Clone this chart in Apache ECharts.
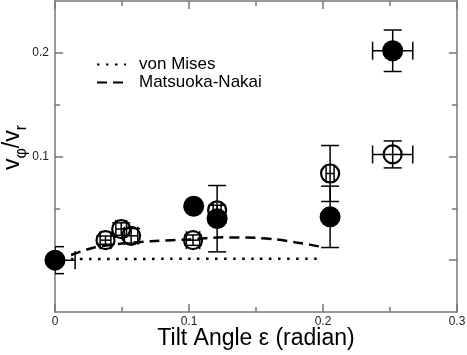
<!DOCTYPE html>
<html>
<head>
<meta charset="utf-8">
<script src="https://cdn.jsdelivr.net/npm/echarts@6/dist/echarts.min.js"></script>
<style>
html, body { margin: 0; padding: 0; background: #fff; }
#chart { width: 467px; height: 355px; }
</style>
</head>
<body>
<div id="chart"></div>
<script>
// filled circles
var solidX = [0, 0.1035, 0.121, 0.2053, 0.252];
var solidY = [0, 0.052, 0.040, 0.0418, 0.202];
var solidXErr = [0.015, 0, 0, 0, 0.015];
var solidYErr = [0.013, 0, 0.032, 0.0296, 0.020];

// open circles
var openX = [0.0377, 0.0494, 0.0568, 0.103, 0.121, 0.2053, 0.252];
var openY = [0.0193, 0.030, 0.0235, 0.0193, 0.048, 0.0836, 0.102];
var openXErr = [0.004, 0.004, 0.005, 0.005, 0.003, 0.003, 0.015];
var openYErr = [0.004, 0.006, 0.007, 0.005, 0.005, 0.027, 0.013];

// model curves
var misesX = [0.012, 0.05, 0.1, 0.15, 0.2];
var misesY = [0.0012, 0.0012, 0.0013, 0.0013, 0.0013];
var nakaiX = [0.012, 0.03, 0.05, 0.075, 0.1, 0.125, 0.15, 0.165, 0.18, 0.19, 0.2];
var nakaiY = [0.005, 0.0125, 0.016, 0.0185, 0.020, 0.022, 0.0215, 0.020, 0.017, 0.015, 0.0125];

// ticks
var xMajor = [0, 0.1, 0.2, 0.3];
var xMinor = [0.05, 0.15, 0.25];
var yMajor = [0, 0.1, 0.2];
var yMinor = [0.05, 0.15];
var yLabels = [0.1, 0.2];

function pairs(xs, ys) {
    return xs.map(function (x, i) { return [x, ys[i]]; });
}
function errRows(xs, ys, xe, ye) {
    return xs.map(function (x, i) { return [x, ys[i], xe[i], ye[i]]; });
}

var axisGray = '#777';
var font = '"Liberation Sans", Arial, sans-serif';

function xAx(pos, ticks, len, labels, line) {
    return {
        type: 'value', position: pos, min: 0, max: 0.3,
        axisLine: { show: line, onZero: false, lineStyle: { color: axisGray, width: 1.5 } },
        axisTick: { show: true, inside: true, length: len, customValues: ticks, lineStyle: { color: axisGray, width: 1.5 } },
        axisLabel: labels ? { show: true, customValues: labels, color: '#222', fontSize: 12, fontFamily: font, margin: 4 } : { show: false },
        splitLine: { show: false }
    };
}
function yAx(pos, ticks, len, labels, line) {
    return {
        type: 'value', position: pos, min: -0.05, max: 0.25,
        axisLine: { show: line, onZero: false, lineStyle: { color: axisGray, width: 1.5 } },
        axisTick: { show: true, inside: true, length: len, customValues: ticks, lineStyle: { color: axisGray, width: 1.5 } },
        axisLabel: labels ? { show: true, customValues: labels, color: '#222', fontSize: 12, fontFamily: font, margin: 6 } : { show: false },
        splitLine: { show: false }
    };
}

var xAxes = [
    xAx('bottom', xMajor, 8, xMajor, true),
    xAx('bottom', xMinor, 5, null, false),
    xAx('top', xMajor, 8, null, true),
    xAx('top', xMinor, 5, null, false)
];
xAxes[0].name = 'Tilt Angle \u03b5 (radian)';
xAxes[0].nameLocation = 'middle';
xAxes[0].nameGap = 15;
xAxes[0].nameMoveOverlap = false;
xAxes[0].nameTextStyle = { fontSize: 23, fontFamily: font, color: '#000' };

var yAxes = [
    yAx('left', yMajor, 8, yLabels, true),
    yAx('left', yMinor, 5, null, false),
    yAx('right', yMajor, 8, null, true),
    yAx('right', yMinor, 5, null, false)
];
yAxes[0].name = '{v|v}{s|\u03c6}{v|/v}{s|r}';
yAxes[0].nameLocation = 'middle';
yAxes[0].nameGap = 25;
yAxes[0].nameMoveOverlap = false;
yAxes[0].nameTextStyle = {
    color: '#000',
    padding: [0, 0, 0, 18],
    rich: {
        v: { fontSize: 23, fontFamily: font, color: '#000', lineHeight: 34 },
        s: { fontSize: 16, fontFamily: font, color: '#000', lineHeight: 16, verticalAlign: 'bottom' }
    }
};

function renderErr(params, api) {
    var x = api.value(0), y = api.value(1), dx = api.value(2), dy = api.value(3);
    var cap = 9;
    var st = { stroke: '#000', lineWidth: 1.5 };
    var kids = [];
    function seg(a, b) {
        kids.push({ type: 'line', shape: { x1: a[0], y1: a[1], x2: b[0], y2: b[1] }, style: st });
    }
    if (dy > 0) {
        var t = api.coord([x, y + dy]), b = api.coord([x, y - dy]);
        seg(t, b);
        seg([t[0] - cap, t[1]], [t[0] + cap, t[1]]);
        seg([b[0] - cap, b[1]], [b[0] + cap, b[1]]);
    }
    if (dx > 0) {
        var l = api.coord([x - dx, y]), r = api.coord([x + dx, y]);
        seg(l, r);
        seg([l[0], l[1] - cap], [l[0], l[1] + cap]);
        seg([r[0], r[1] - cap], [r[0], r[1] + cap]);
    }
    return { type: 'group', children: kids };
}

var chart = echarts.init(document.getElementById('chart'));
chart.setOption({
    animation: false,
    backgroundColor: '#fff',
    grid: { left: 55, right: 10, top: 1, bottom: 43, outerBoundsMode: 'none', containLabel: false },
    xAxis: xAxes,
    yAxis: yAxes,
    legend: {
        orient: 'vertical',
        left: 91, top: 51,
        itemWidth: 29, itemHeight: 10, itemGap: 1,
        data: ['von Mises', 'Matsuoka-Nakai'],
        itemStyle: { opacity: 0 },
        textStyle: { fontSize: 17, fontFamily: font, color: '#000', padding: [0, 0, 0, 8] }
    },
    series: [
        {
            name: 'von Mises', type: 'line', data: pairs(misesX, misesY),
            symbol: 'none', smooth: 0.3, z: 1, itemStyle: { color: '#000' },
            lineStyle: { color: '#000', width: 2.5, type: [2.5, 6.5] }
        },
        {
            name: 'Matsuoka-Nakai', type: 'line', data: pairs(nakaiX, nakaiY),
            symbol: 'none', smooth: 0.3, z: 1, itemStyle: { color: '#000' },
            lineStyle: { color: '#000', width: 2.5, type: [10, 6] }
        },
        {
            type: 'custom', renderItem: renderErr, clip: true, z: 2,
            data: errRows(openX, openY, openXErr, openYErr)
        },
        {
            type: 'custom', renderItem: renderErr, clip: true, z: 2,
            data: errRows(solidX, solidY, solidXErr, solidYErr)
        },
        {
            type: 'scatter', data: pairs(openX, openY), symbol: 'circle', symbolSize: 18, z: 3,
            itemStyle: { color: 'rgba(0,0,0,0)', borderColor: '#000', borderWidth: 2.2, opacity: 1 }
        },
        {
            type: 'scatter', data: pairs(solidX, solidY), symbol: 'circle', symbolSize: 21, z: 4,
            itemStyle: { color: '#000', opacity: 1 }
        }
    ]
});
</script>
</body>
</html>
